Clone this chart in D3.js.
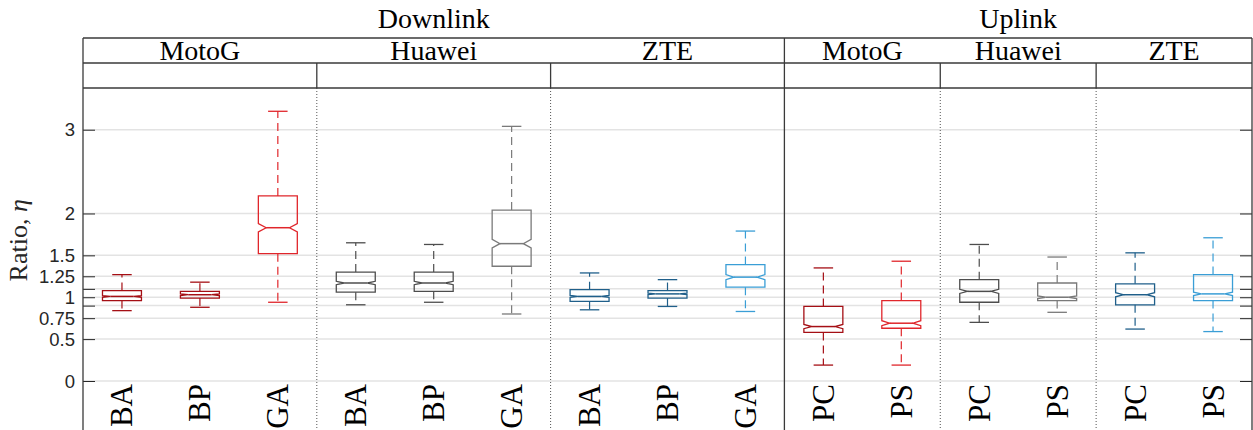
<!DOCTYPE html>
<html>
<head>
<meta charset="utf-8">
<script src="https://cdn.jsdelivr.net/npm/d3@7"></script>
<style>
  body { margin: 0; background: #fff; }
  svg { display: block; }
</style>
</head>
<body>
<svg width="1253" height="430"></svg>
<script>
// Box statistics, one entry per box, left to right
const links = ['Downlink', 'Uplink'];
const devices = ['MotoG', 'Huawei', 'ZTE'];
const downlinkMethods = ['BA', 'BP', 'GA'];
const uplinkMethods = ['PC', 'PS'];

const whiskerLow  = [0.84, 0.88, 0.94,  0.91, 0.94, 0.80,  0.85, 0.89, 0.83,  0.19, 0.19,  0.70, 0.82,  0.62, 0.59];
const q1          = [0.96, 0.99, 1.52,  1.06, 1.07, 1.37,  0.95, 0.99, 1.12,  0.58, 0.63,  0.94, 0.96,  0.91, 0.96];
const median      = [1.01, 1.03, 1.83,  1.17, 1.17, 1.64,  1.01, 1.04, 1.24,  0.65, 0.69,  1.07, 1.00,  1.03, 1.04];
const q3          = [1.08, 1.07, 2.21,  1.30, 1.30, 2.04,  1.09, 1.08, 1.39,  0.89, 0.96,  1.21, 1.17,  1.16, 1.27];
const whiskerHigh = [1.27, 1.18, 3.22,  1.65, 1.63, 3.04,  1.29, 1.21, 1.79,  1.35, 1.43,  1.63, 1.48,  1.53, 1.71];
const notch       = [0.01, 0.01, 0.05,  0.02, 0.02, 0.05,  0.012, 0.008, 0.03,  0.025, 0.03,  0.025, 0.015,  0.025, 0.02];

const yTicks = [0, 0.5, 0.75, 0.9, 1, 1.1, 1.25, 1.5, 2, 3];
const yTickLabels = ['0', '0.5', '0.75', '', '1', '', '1.25', '1.5', '2', '3'];

// colour per device: darker for the first method(s), lighter for the last
const palette = {
  MotoG:  { dark: '#a50f15', light: '#e0262b' },
  Huawei: { dark: '#4d4d4d', light: '#7a7a7a' },
  ZTE:    { dark: '#1f5f8a', light: '#3a9ed6' }
};

// build the list of boxes from the arrays above
const boxes = [];
links.forEach(link => {
  const methods = link === 'Downlink' ? downlinkMethods : uplinkMethods;
  devices.forEach(device => {
    methods.forEach((method, mi) => {
      const i = boxes.length;
      boxes.push({
        id: i, link, device, method,
        light: mi === methods.length - 1,
        lo: whiskerLow[i], q1: q1[i], med: median[i], q3: q3[i], hi: whiskerHigh[i], n: notch[i]
      });
    });
  });
});

const svg = d3.select('svg');
const plotLeft = 83, plotRight = 1252, headTop = 38, row1 = 63, row2 = 88, plotBottom = 430;
const serif = '"Liberation Serif", "Times New Roman", serif';
const sans = '"Liberation Sans", Arial, sans-serif';
const frame = '#3a3a3a';

const x = d3.scaleBand().domain(boxes.map(d => d.id)).range([plotLeft, plotRight]).padding(0);
const y = d3.scaleLinear().domain([-0.585, 3.498]).range([plotBottom, row2]);

// grid lines
svg.append('g')
  .selectAll('line')
  .data(yTicks)
  .enter().append('line')
    .attr('x1', plotLeft).attr('x2', plotRight)
    .attr('y1', d => y(d)).attr('y2', d => y(d))
    .attr('stroke', '#e3e3e3')
    .attr('stroke-width', 1.5);

// y axis, ticks pointing inward on both sides
const yAxisL = svg.append('g')
  .attr('transform', `translate(${plotLeft},0)`)
  .call(d3.axisRight(y).tickValues(yTicks).tickSize(12).tickFormat(''));
yAxisL.select('.domain').remove();
yAxisL.selectAll('.tick line').attr('stroke', '#262626');

const yAxisR = svg.append('g')
  .attr('transform', `translate(${plotRight},0)`)
  .call(d3.axisLeft(y).tickValues(yTicks).tickSize(12).tickFormat(''));
yAxisR.select('.domain').remove();
yAxisR.selectAll('.tick line').attr('stroke', '#262626');

svg.append('g')
  .selectAll('text')
  .data(yTicks)
  .enter().append('text')
    .attr('x', 75)
    .attr('y', d => y(d))
    .attr('dy', '0.36em')
    .attr('text-anchor', 'end')
    .attr('font-family', sans)
    .attr('font-size', 18.5)
    .attr('fill', '#262626')
    .text((d, i) => yTickLabels[i]);

// y axis title
const yTitle = svg.append('text')
  .attr('transform', `translate(27,${y(1.68)}) rotate(-90)`)
  .attr('text-anchor', 'middle')
  .attr('font-family', serif)
  .attr('font-size', 26)
  .attr('fill', '#262626');
yTitle.append('tspan').text('Ratio, ');
yTitle.append('tspan').attr('font-style', 'italic').text('η');

// group boundaries
const deviceGroups = d3.groups(boxes, d => d.link, d => d.device);
const deviceSpans = [];
deviceGroups.forEach(([link, devs]) => {
  devs.forEach(([device, items]) => {
    deviceSpans.push({
      link, device,
      x0: x(items[0].id),
      x1: x(items[items.length - 1].id) + x.bandwidth()
    });
  });
});
const linkSpans = deviceGroups.map(([link, devs]) => {
  const items = devs.flatMap(d => d[1]);
  return { link, x0: x(items[0].id), x1: x(items[items.length - 1].id) + x.bandwidth() };
});

// dotted separators between devices inside a link
deviceSpans.filter((d, i) => i > 0 && deviceSpans[i - 1].link === d.link).forEach(d => {
  svg.append('line')
    .attr('x1', d.x0).attr('x2', d.x0)
    .attr('y1', row2).attr('y2', plotBottom)
    .attr('stroke', '#555')
    .attr('stroke-width', 1)
    .attr('stroke-dasharray', '1,2');
  svg.append('line')
    .attr('x1', d.x0).attr('x2', d.x0)
    .attr('y1', row1).attr('y2', row2)
    .attr('stroke', frame)
    .attr('stroke-width', 1.3);
});

// solid separator between links
linkSpans.slice(1).forEach(d => {
  svg.append('line')
    .attr('x1', d.x0).attr('x2', d.x0)
    .attr('y1', headTop).attr('y2', plotBottom)
    .attr('stroke', frame)
    .attr('stroke-width', 1.3);
});

// header frame
[headTop, row1, row2].forEach(yy => {
  svg.append('line')
    .attr('x1', plotLeft).attr('x2', plotRight)
    .attr('y1', yy).attr('y2', yy)
    .attr('stroke', frame)
    .attr('stroke-width', 1.3);
});
[plotLeft, plotRight].forEach(xx => {
  svg.append('line')
    .attr('x1', xx).attr('x2', xx)
    .attr('y1', headTop).attr('y2', plotBottom)
    .attr('stroke', frame)
    .attr('stroke-width', 1.3);
});

// header labels
svg.append('g')
  .selectAll('text')
  .data(linkSpans)
  .enter().append('text')
    .attr('x', d => (d.x0 + d.x1) / 2)
    .attr('y', 28)
    .attr('text-anchor', 'middle')
    .attr('font-family', serif)
    .attr('font-size', 28)
    .attr('fill', '#000')
    .text(d => d.link);

svg.append('g')
  .selectAll('text')
  .data(deviceSpans)
  .enter().append('text')
    .attr('x', d => (d.x0 + d.x1) / 2)
    .attr('y', 60)
    .attr('text-anchor', 'middle')
    .attr('font-family', serif)
    .attr('font-size', 28)
    .attr('fill', '#000')
    .text(d => d.device);

// boxes
const bw = x.bandwidth() * 0.5;
const capW = x.bandwidth() * 0.25;
const inset = bw * 0.2;
const colour = d => d.light ? palette[d.device].light : palette[d.device].dark;

const g = svg.append('g')
  .selectAll('g')
  .data(boxes)
  .enter().append('g')
    .attr('transform', d => `translate(${x(d.id) + x.bandwidth() / 2},0)`);

// whiskers
g.append('line')
  .attr('x1', 0).attr('x2', 0)
  .attr('y1', d => y(d.q3)).attr('y2', d => y(d.hi))
  .attr('stroke', colour).attr('stroke-width', 1.2)
  .attr('stroke-dasharray', '8,5');
g.append('line')
  .attr('x1', 0).attr('x2', 0)
  .attr('y1', d => y(d.q1)).attr('y2', d => y(d.lo))
  .attr('stroke', colour).attr('stroke-width', 1.2)
  .attr('stroke-dasharray', '8,5');
g.append('line')
  .attr('x1', -capW / 2).attr('x2', capW / 2)
  .attr('y1', d => y(d.hi)).attr('y2', d => y(d.hi))
  .attr('stroke', colour).attr('stroke-width', 1.3);
g.append('line')
  .attr('x1', -capW / 2).attr('x2', capW / 2)
  .attr('y1', d => y(d.lo)).attr('y2', d => y(d.lo))
  .attr('stroke', colour).attr('stroke-width', 1.3);

// notched box outline
g.append('path')
  .attr('d', d => {
    const x0 = -bw / 2, x1 = bw / 2;
    const pts = [
      [x0, y(d.q3)], [x1, y(d.q3)],
      [x1, y(d.med + d.n)], [x1 - inset, y(d.med)], [x1, y(d.med - d.n)],
      [x1, y(d.q1)], [x0, y(d.q1)],
      [x0, y(d.med - d.n)], [x0 + inset, y(d.med)], [x0, y(d.med + d.n)]
    ];
    return d3.line()(pts) + 'Z';
  })
  .attr('fill', 'none')
  .attr('stroke', colour)
  .attr('stroke-width', 1.3);

// median
g.append('line')
  .attr('x1', -bw / 2 + inset).attr('x2', bw / 2 - inset)
  .attr('y1', d => y(d.med)).attr('y2', d => y(d.med))
  .attr('stroke', colour)
  .attr('stroke-width', 1.5);

// category labels, rotated
svg.append('g')
  .selectAll('text')
  .data(boxes)
  .enter().append('text')
    .attr('transform', d => `translate(${x(d.id) + x.bandwidth() / 2 + 10.5},384) rotate(-90)`)
    .attr('text-anchor', 'end')
    .attr('font-family', serif)
    .attr('font-size', 31)
    .attr('fill', '#000')
    .text(d => d.method);
</script>
</body>
</html>
